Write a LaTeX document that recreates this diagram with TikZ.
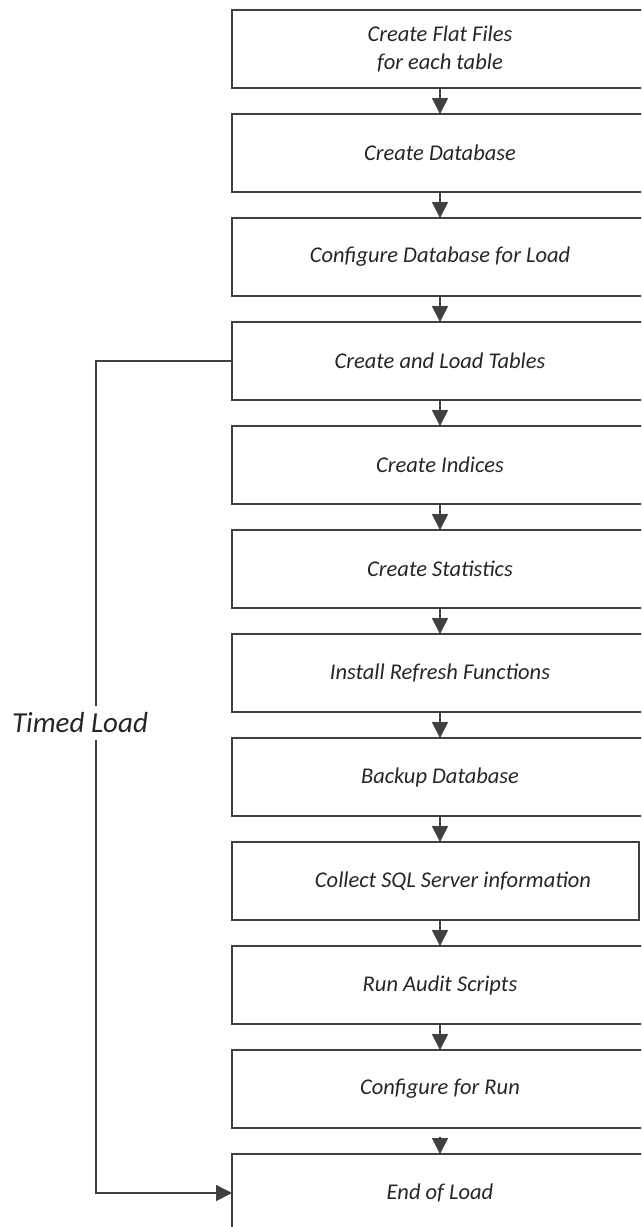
\documentclass[tikz,border=0pt]{standalone}
\usepackage{fontspec}
\setmainfont{Carlito}
\usepackage{tikz}
\usetikzlibrary{
    positioning,      % For placing the boxes one below the other
    arrows.meta       % For the triangle arrow tips
}

\begin{document}
\begin{tikzpicture}[
    x=1pt, y=-1pt,
    % Global style settings
    node distance=26pt, % Gap between two boxes
    % Colour of all lines
    line_style/.style={
        draw=black!75,
        line width=1.5pt
    },
    % Style for the process boxes
    box_style/.style={
        line_style,
        rectangle,
        outer sep=0pt,
        minimum width=416pt,
        minimum height=78pt,
        align=center,
        font=\fontsize{22.5}{28}\selectfont\itshape,
        text=black!85
    },
    % Style for arrowheads
    arrow_tip/.style={
        -{Triangle[length=16pt, width=16pt]}
    }
]
    % 0. Fix the page size of the reference.
    \useasboundingbox (0,0) rectangle (641,1227);
    \clip (0,0) rectangle (641,1227);

    % 1. The column of process boxes.
    \node[box_style, anchor=north] (flat_files) at (440,10) {Create Flat Files\\for each table};
    \node[box_style, below=of flat_files] (create_db) {Create Database};
    \node[box_style, below=of create_db] (config_db) {Configure Database for Load};
    \node[box_style, below=of config_db] (load_tables) {Create and Load Tables};
    \node[box_style, below=of load_tables] (indices) {Create Indices};
    \node[box_style, below=of indices] (statistics) {Create Statistics};
    \node[box_style, below=of statistics] (refresh_fn) {Install Refresh Functions};
    \node[box_style, below=of refresh_fn] (backup_db) {Backup Database};
    \node[box_style, below=of backup_db, minimum width=407pt, xshift=-4.5pt] (sql_info) {\hspace*{35pt}Collect SQL Server information};
    \node[box_style, below=of sql_info, xshift=4.5pt] (audit) {Run Audit Scripts};
    \node[box_style, below=of audit] (config_run) {Configure for Run};
    \node[box_style, below=of config_run] (end_load) {End of Load};

    % 2. The arrows between the boxes.
    \foreach \a/\b in {flat_files/create_db, create_db/config_db, config_db/load_tables,
        load_tables/indices, indices/statistics, statistics/refresh_fn,
        refresh_fn/backup_db, audit/config_run}
        \draw[line_style, arrow_tip] (\a) -- (\b);
    \draw[line_style, arrow_tip] (backup_db.south) -- (backup_db.south |- sql_info.north);
    \draw[line_style, arrow_tip] (backup_db.south |- sql_info.south) -- (audit.north);
    % the last one has no shaft
    \draw[line_style, arrow_tip] ([yshift=17pt]end_load.north) -- (end_load.north);

    % 3. The timed load loop on the left.
    \coordinate (loop_top) at ([xshift=-136pt]load_tables.west);
    \draw[line_style, arrow_tip] (load_tables.west) -- (loop_top) |- (end_load.west);
    \node[fill=white, inner xsep=0pt, inner ysep=7pt, font=\fontsize{29}{34}\selectfont\itshape, text=black!85]
        (timed_label) at (80,723) {Timed Load};

\end{tikzpicture}
\end{document}
